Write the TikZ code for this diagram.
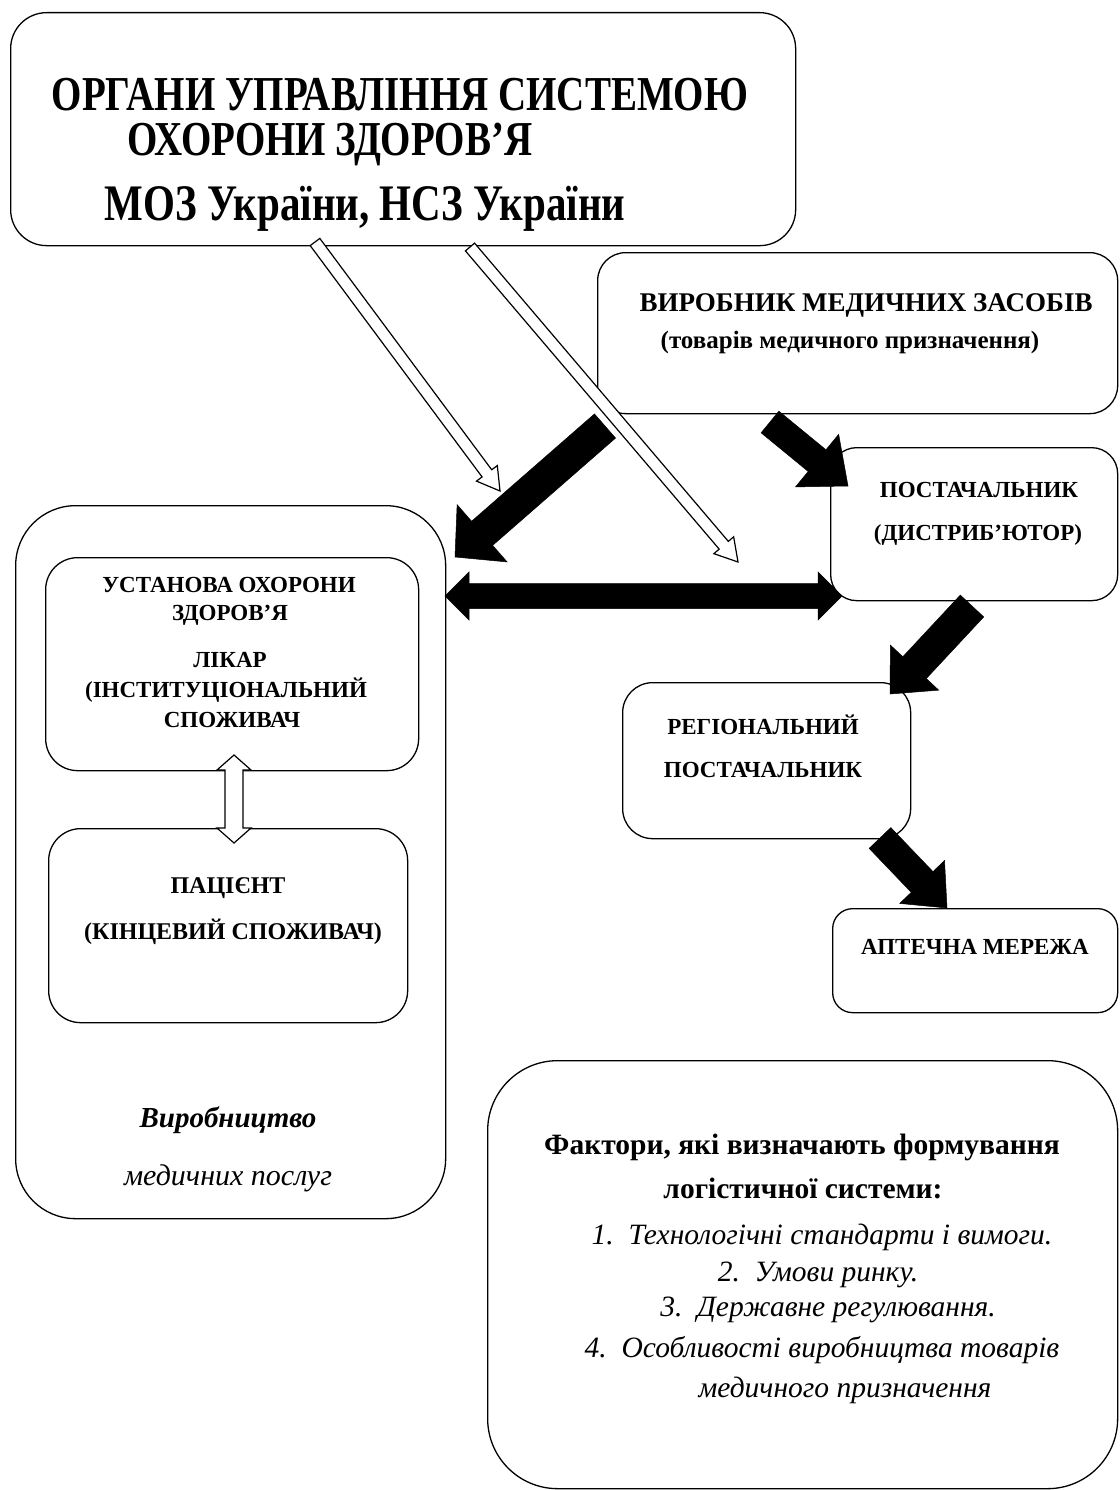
\documentclass[tikz,border=0pt]{standalone}
\usepackage{graphicx}
\usepackage{fontspec}
\setmainfont{Liberation Serif}
\usetikzlibrary{calc}
% single-headed block arrow from #1 to #2: half shaft #3, head length #4, half head #5, style #6
\newcommand\blockarrow[6]{%
  \coordinate (hb) at ($(#2)!#4!(#1)$);
  \draw[#6] ($(#1)!#3!90:(#2)$) -- ($(hb)!#3!-90:(#1)$) -- ($(hb)!#5!-90:(#1)$) -- (#2)
     -- ($(hb)!#5!90:(#1)$) -- ($(hb)!#3!90:(#1)$) -- ($(#1)!#3!-90:(#2)$) -- cycle;}
% double-headed block arrow
\newcommand\blockdarrow[6]{%
  \coordinate (hb) at ($(#2)!#4!(#1)$);
  \coordinate (ha) at ($(#1)!#4!(#2)$);
  \draw[#6] (#1) -- ($(ha)!#5!90:(#2)$) -- ($(ha)!#3!90:(#2)$) -- ($(hb)!#3!-90:(#1)$)
     -- ($(hb)!#5!-90:(#1)$) -- (#2) -- ($(hb)!#5!90:(#1)$) -- ($(hb)!#3!90:(#1)$)
     -- ($(ha)!#3!-90:(#2)$) -- ($(ha)!#5!-90:(#2)$) -- cycle;}
\newcommand\tallt[1]{\scalebox{1}[1.25]{#1}}
\begin{document}
\begin{tikzpicture}[x=1pt,y=-1pt,
  box/.style={draw, line width=1.3pt, anchor=north west, inner sep=0pt},
  toptext/.style={inner sep=0pt, anchor=base, text height=32pt, text depth=0pt},
  captext/.style={font=\fontsize{23}{23}\selectfont\bfseries, inner sep=0pt},
  listtext/.style={font=\fontsize{29.5}{29.5}\selectfont\itshape, inner sep=0pt},
  headtext/.style={font=\fontsize{29.5}{29.5}\selectfont\bfseries, inner sep=0pt},
  hollow/.style={draw, fill=white, line width=1.2pt, line join=miter},
  blackfill/.style={fill=black, draw=black, line width=0.5pt}]
\useasboundingbox (0,0) rectangle (1119,1490);
\fill[white] (0,0) rectangle (1119,1490);

% boxes
\node[box, rounded corners=36pt, minimum width=785pt, minimum height=233pt] (top) at (10,12) {};
\node[box, rounded corners=28pt, minimum width=520pt, minimum height=161pt] (vyr) at (597,252) {};
\node[box, rounded corners=26pt, minimum width=287pt, minimum height=153pt] (post) at (830,447) {};
\node[box, rounded corners=30pt, minimum width=288pt, minimum height=156pt] (reg) at (622,682) {};
\node[box, rounded corners=20pt, minimum width=285pt, minimum height=104pt] (apt) at (832,908) {};
\node[box, rounded corners=60pt, minimum width=430pt, minimum height=713pt] (big) at (15,505) {};
\node[box, rounded corners=32pt, minimum width=373pt, minimum height=213pt] (ust) at (45,557) {};
\node[box, rounded corners=32pt, minimum width=359pt, minimum height=194pt] (pac) at (48,828) {};
\node[box, rounded corners=70pt, minimum width=630pt, minimum height=428pt] (fac) at (487,1060) {};

% texts
\node[toptext, font=\fontsize{39}{39}\selectfont\bfseries] (t1) at (400,111) {\tallt{ОРГАНИ УПРАВЛІННЯ СИСТЕМОЮ}};
\node[toptext, font=\fontsize{39}{39}\selectfont\bfseries] (t2) at (330,156) {\tallt{ОХОРОНИ ЗДОРОВ’Я}};
\node[toptext, font=\fontsize{41}{41}\selectfont\bfseries] (t3) at (365,220) {\tallt{МОЗ України, НСЗ України}};

\node[captext, font=\fontsize{27}{27}\selectfont\bfseries] (v1) at (866,305) {ВИРОБНИК МЕДИЧНИХ ЗАСОБІВ};
\node[captext, font=\fontsize{25}{25}\selectfont\bfseries] (v2) at (850,342) {(товарів медичного призначення)};
\node[captext] (p1) at (979,490) {ПОСТАЧАЛЬНИК};
\node[captext] (p2) at (978,535) {(ДИСТРИБ’ЮТОР)};
\node[captext] (r1) at (763,725) {РЕГІОНАЛЬНИЙ};
\node[captext] (r2) at (763,770) {ПОСТАЧАЛЬНИК};
\node[captext] (a1) at (975,947) {АПТЕЧНА МЕРЕЖА};

\node[captext] (u1) at (229,585) {УСТАНОВА ОХОРОНИ};
\node[captext] (u2) at (230,615) {ЗДОРОВ’Я};
\node[captext] (u3) at (230,660) {ЛІКАР};
\node[captext] (u4) at (226,690) {(ІНСТИТУЦІОНАЛЬНИЙ};
\node[captext] (u5) at (232,720) {СПОЖИВАЧ};
\node[captext, font=\fontsize{24}{24}\selectfont\bfseries] (c1) at (228,888) {ПАЦІЄНТ};
\node[captext, font=\fontsize{24}{24}\selectfont\bfseries] (c2) at (233,932) {(КІНЦЕВИЙ СПОЖИВАЧ)};

\node[font=\fontsize{29}{29}\selectfont\bfseries\itshape, inner sep=0pt] (b1) at (228,1120) {Виробництво};
\node[font=\fontsize{30}{30}\selectfont\itshape, inner sep=0pt] (b2) at (228,1178) {медичних послуг};

\node[headtext] (f1) at (802,1147) {Фактори, які визначають формування};
\node[headtext] (f2) at (803,1188) {логістичної системи:};
\node[listtext] (l1) at (822,1237) {1.\ \ Технологічні стандарти і вимоги.};
\node[listtext] (l2) at (818,1275) {2.\ \ Умови ринку.};
\node[listtext] (l3) at (828,1310) {3.\ \ Державне регулювання.};
\node[listtext] (l4) at (822,1350) {4.\ \ Особливості виробництва товарів};
\node[listtext] (l5) at (845,1390) {медичного призначення};

% arrow end points
\coordinate (h1s) at (315,242);
\coordinate (h1e) at (500,491);
\coordinate (h2s) at (470,247);
\coordinate (h2e) at (738,562);
\coordinate (k1s) at (605,426);
\coordinate (k1e) at (455,557);
\coordinate (k2s) at (445,596);
\coordinate (k2e) at (842,596);
\coordinate (k3s) at (770,422);
\coordinate (k3e) at (848,486);
\coordinate (k4s) at (972,606);
\coordinate (k4e) at (890,694);
\coordinate (k5s) at (880,838);
\coordinate (k5e) at (947,908);
\coordinate (vs) at (234,755);
\coordinate (ve) at (234,843);

% arrows
\blockarrow{h1s}{h1e}{6pt}{22pt}{13pt}{hollow}
\blockarrow{k1s}{k1e}{16pt}{36pt}{38pt}{blackfill}
\blockarrow{h2s}{h2e}{6pt}{22pt}{13pt}{hollow}
\blockdarrow{k2s}{k2e}{12.5pt}{24pt}{24pt}{blackfill}
\blockarrow{k3s}{k3e}{14pt}{40pt}{34pt}{blackfill}
\blockarrow{k4s}{k4e}{16pt}{36pt}{33pt}{blackfill}
\blockarrow{k5s}{k5e}{15pt}{36pt}{31pt}{blackfill}
\blockdarrow{vs}{ve}{9pt}{15pt}{17pt}{hollow}
\end{tikzpicture}
\end{document}
